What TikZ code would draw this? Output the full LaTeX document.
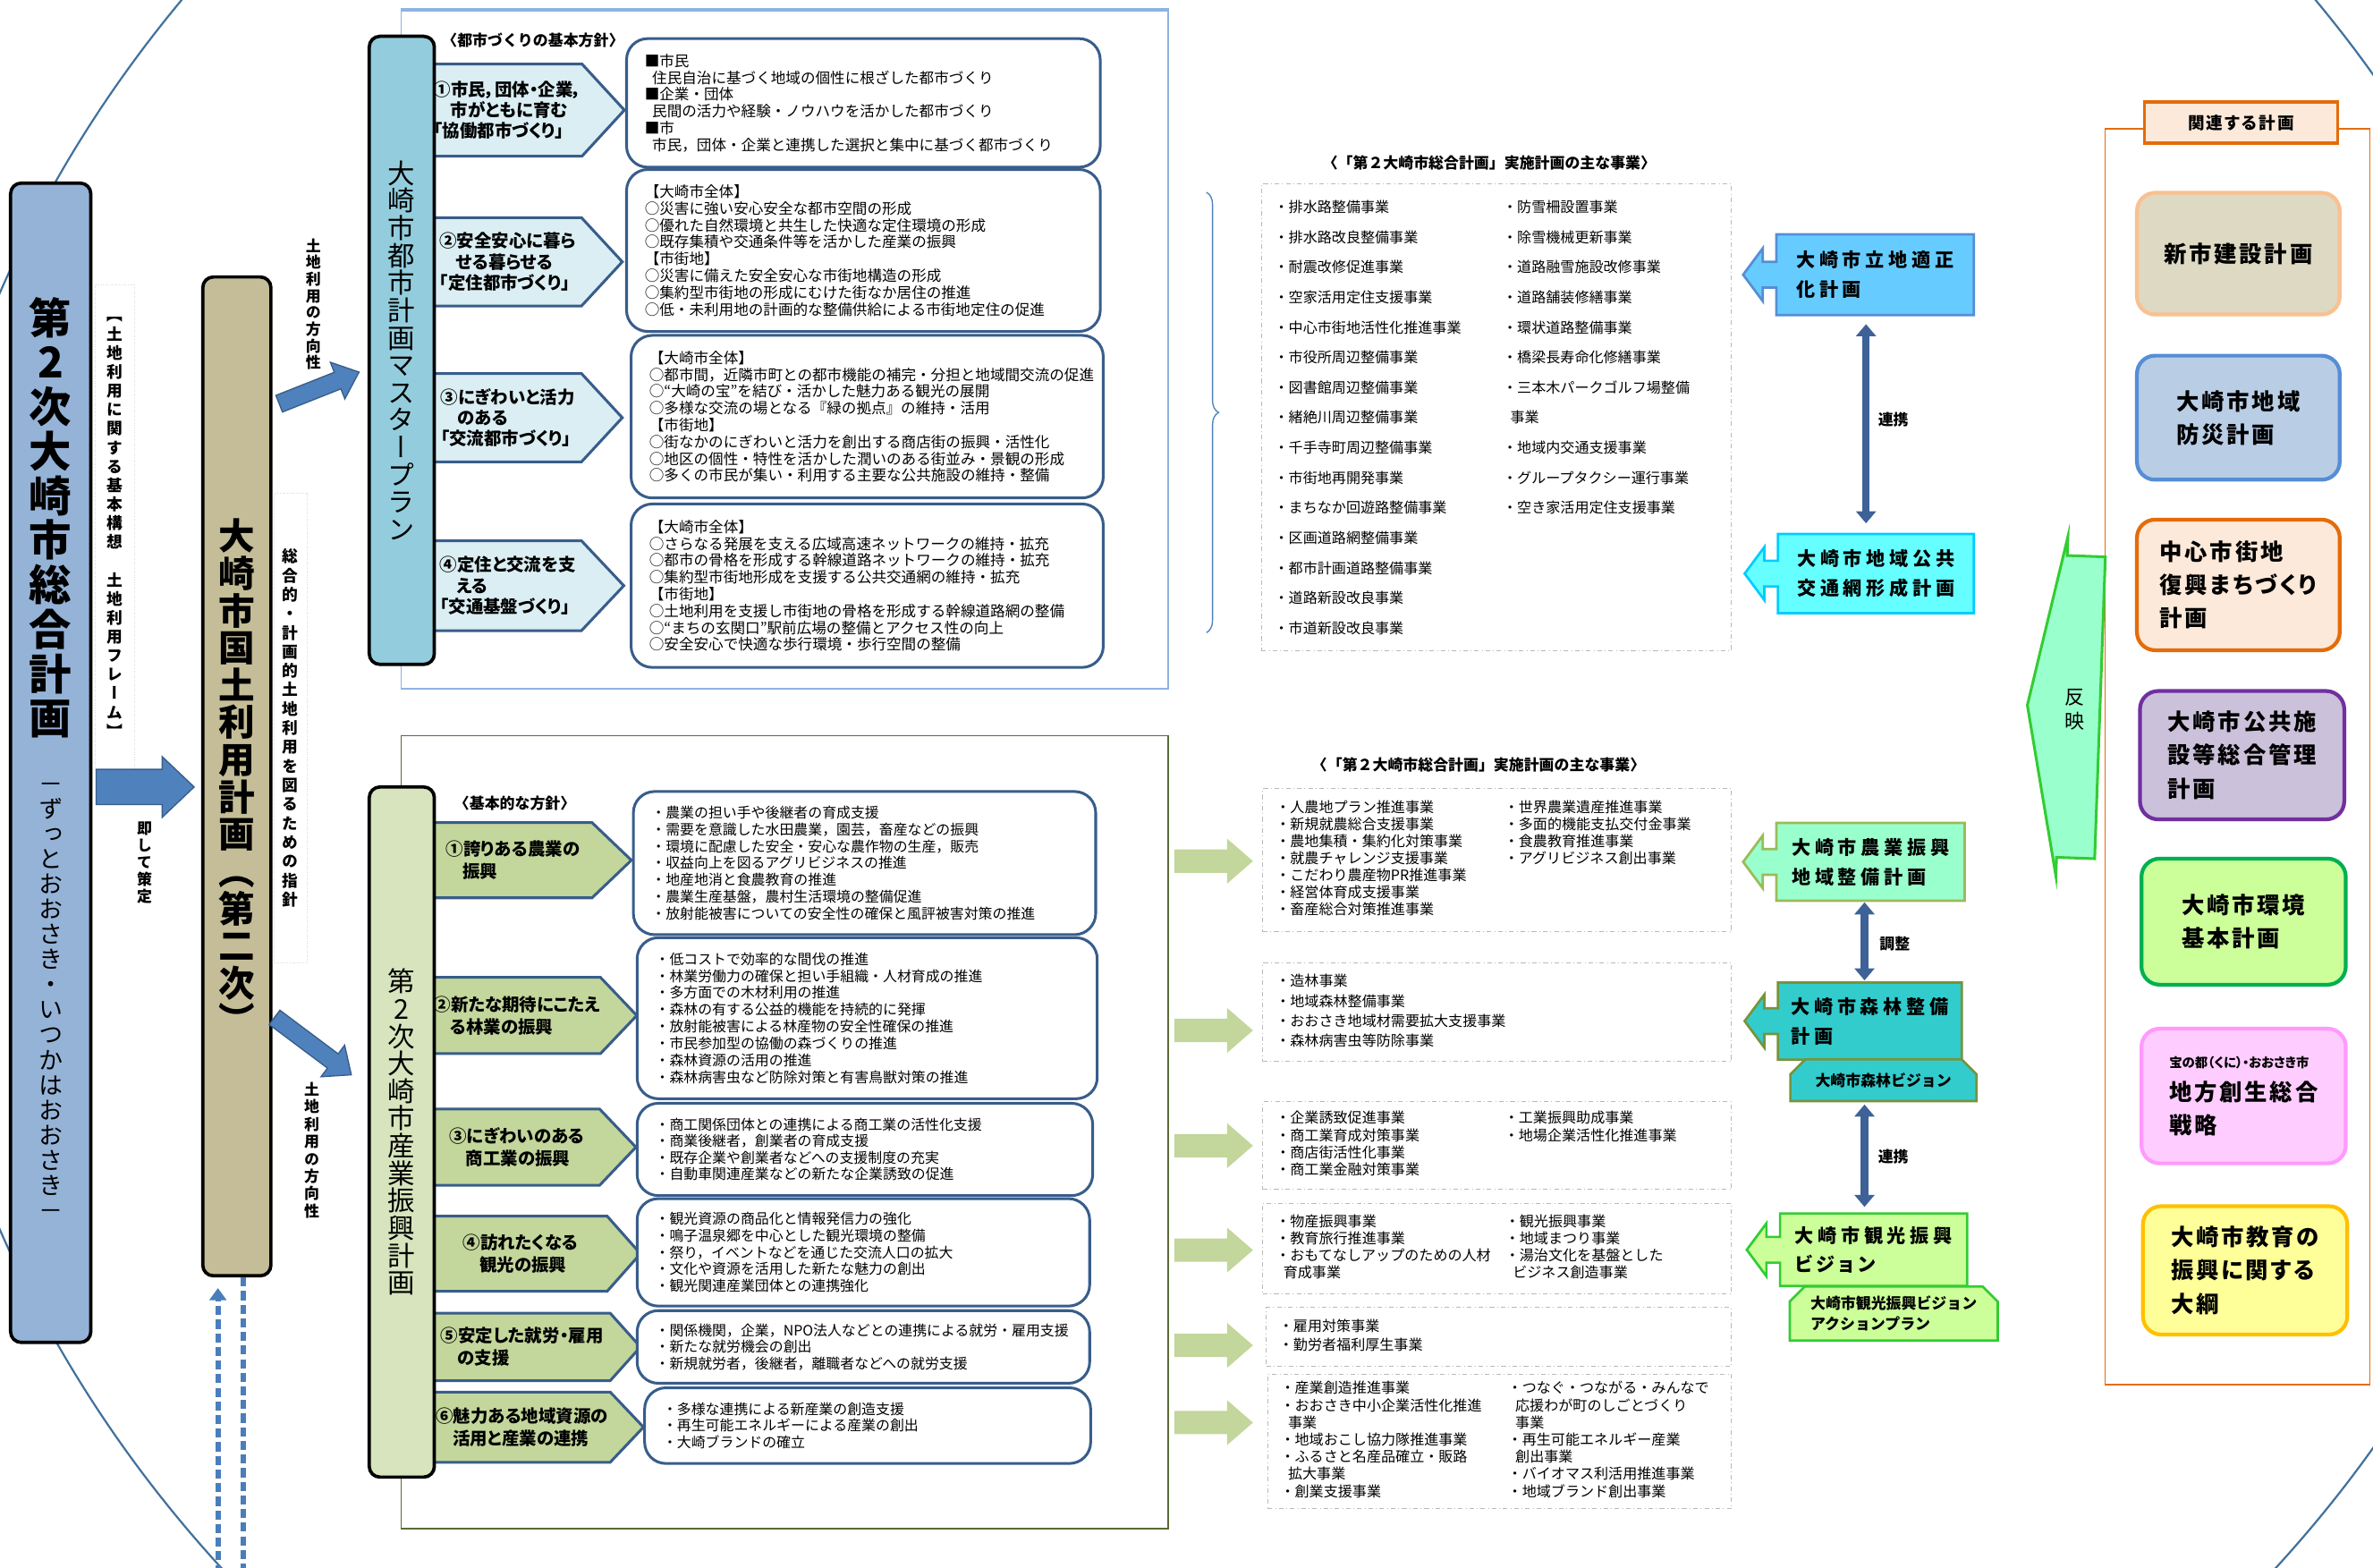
\documentclass[tikz,border=0pt]{standalone}
\usepackage{fontspec}
\setmainfont{Noto Sans CJK JP}
\newfontfamily\propfont{Noto Sans CJK JP}[RawFeature=+palt]
\newfontfamily\tatefont{Noto Sans CJK JP}[RawFeature=+vert]
\newfontfamily\widefont{Noto Sans CJK JP}[LetterSpace=22, RawFeature=+palt]
\newfontfamily\midfont{Noto Sans CJK JP}[LetterSpace=11, RawFeature=+palt]
\usepackage{array}
\usepackage{tikz}
\usetikzlibrary{shapes, arrows, arrows.meta, positioning, calc, backgrounds, decorations.pathreplacing}

\definecolor{waku}{HTML}{385D8A}
\definecolor{mizuiro}{HTML}{DAEEF3}
\definecolor{wakaba}{HTML}{C3D69B}
\definecolor{sougouao}{HTML}{95B3D7}
\definecolor{kokudocha}{HTML}{C4BD97}
\definecolor{masterao}{HTML}{93CDDD}
\definecolor{sangyomidori}{HTML}{D7E4BD}
\definecolor{yaao}{HTML}{4F81BD}
\definecolor{enao}{HTML}{41719C}
\definecolor{wakuao}{HTML}{8DB3E2}
\definecolor{wakuolive}{HTML}{5A6B35}
\definecolor{renkeiao}{HTML}{3E6297}
\definecolor{tensenao}{HTML}{4A7EBB}
\definecolor{sora}{HTML}{66CCFF}
\definecolor{soraline}{HTML}{558ED5}
\definecolor{cyan1}{HTML}{66FFFF}
\definecolor{cyanline}{HTML}{00CCFF}
\definecolor{minto}{HTML}{99FFCC}
\definecolor{mintoline}{HTML}{9BBB59}
\definecolor{shinrin}{HTML}{33CCCC}
\definecolor{shinrinline}{HTML}{77933C}
\definecolor{kimidori}{HTML}{CCFF99}
\definecolor{kimidoriline}{HTML}{33CC33}
\definecolor{orange1}{HTML}{E46C0A}
\definecolor{peach}{HTML}{FDE9D9}
\definecolor{haiiro}{HTML}{DDD9C3}
\definecolor{haiiroline}{HTML}{FAC090}
\definecolor{bousai}{HTML}{B9CDE5}
\definecolor{murasaki}{HTML}{CCC1DA}
\definecolor{murasakiline}{HTML}{7030A0}
\definecolor{kankyouline}{HTML}{00B050}
\definecolor{pink1}{HTML}{FFCCFF}
\definecolor{pinkline}{HTML}{FF99FF}
\definecolor{kiiro}{HTML}{FFFF99}
\definecolor{kiiroline}{HTML}{FFC000}

% vertical writing: one character per line
\ExplSyntaxOn
\NewDocumentCommand \tate { m }
  { \vbox { \lineskiplimit=-\maxdimen \lineskip=0pt \tl_map_inline:nn {#1} { \hbox to 1em { \hss ##1 \hss } } } }
\ExplSyntaxOff

\tikzstyle{tatebox}   = [draw=black, line width=2.2pt, rounded corners=7pt, inner sep=0pt]
\tikzstyle{tatemoji}  = [inner sep=0pt, font=\tatefont\bfseries\fontsize{10.5}{12.5}\selectfont]
\tikzstyle{houshin}   = [inner sep=0pt, align=left, font=\propfont\bfseries\fontsize{11.5}{13.8}\selectfont]
\tikzstyle{naiyou}    = [draw=waku, line width=1.8pt, rounded corners=14pt, fill=white, align=left, inner xsep=12pt, inner ysep=0pt, font=\fontsize{9.8}{11.1}\selectfont]
\tikzstyle{jigyo}     = [draw=gray!55, dash dot, line width=0.6pt, inner xsep=8.5pt, inner ysep=0pt, align=left]
\tikzstyle{komidashi} = [inner sep=0pt, font=\bfseries\fontsize{10}{12}\selectfont]
\tikzstyle{yoko}      = [inner sep=0pt, align=left, font=\widefont\bfseries\fontsize{12.5}{19.4}\selectfont]
\tikzstyle{keikaku}   = [rounded corners=12pt, line width=2.5pt, align=left, inner sep=0pt, font=\midfont\bfseries\fontsize{15}{21.9}\selectfont]
\tikzstyle{renkei}    = [line width=5pt, draw=renkeiao, {Triangle[width=13pt,length=8pt]}-{Triangle[width=13pt,length=8pt]}]
\tikzstyle{futoya}    = [single arrow, inner sep=0pt, fill=yaao, draw=waku, line width=0.8pt]
\tikzstyle{midoriya}  = [single arrow, inner sep=0pt, fill=wakaba, draw=none, single arrow tip angle=82]
\tikzstyle{tensen}    = [line width=3.5pt, draw=tensenao, dash pattern=on 6pt off 3pt]
\tikzstyle{kakko}     = [draw=yaao, line width=0.8pt, decorate, decoration={brace, amplitude=8pt}]

% block arrow from #2 to #3, head width #4, shaft width #5, name #6
\newcommand\yajirushi[6]{%
  \path let \p1=#2, \p2=#3, \n1={atan2(\y2-\y1,\x2-\x1)}, \n2={veclen(\x2-\x1,\y2-\y1)} in
    node[#1, minimum width=#4, text height=#5, text depth=0pt, minimum height=\n2, anchor=tail, rotate=\n1] (#6) at (\p1) {};}

% pentagon behind a label node
\newcommand\houshinline[3]{%
  \begin{scope}[on background layer]
    \path[fill=#3, draw=waku, line width=1.8pt]
      (#1.north west) -- (#1.north east) -- ($(#1.east)+(#2,0)$) -- (#1.south east) -- (#1.south west) -- cycle;
  \end{scope}}

% left pointing callout behind a label node
\newcommand\callline[3]{%
  \begin{scope}[on background layer]
    \path[fill=#2, draw=#3, line width=1.6pt]
      (#1.north west) -- (#1.north east) -- (#1.south east) -- (#1.south west)
      -- ($(#1.west)+(0,8.5)$) -- ($(#1.west)+(-9,8.5)$) -- ($(#1.west)+(-9,17.5)$)
      -- ($(#1.west)+(-22,0)$)
      -- ($(#1.west)+(-9,-17.5)$) -- ($(#1.west)+(-9,-8.5)$) -- ($(#1.west)+(0,-8.5)$) -- cycle;
  \end{scope}}

\begin{document}
\begin{tikzpicture}[x=1pt, y=-1pt]
\useasboundingbox (0,0) rectangle (1568,1035.5);
\clip (0,0) rectangle (1568,1035.5);

% outline
\draw[enao, line width=1.3pt] (825,503) ellipse [x radius=890pt, y radius=824pt];

% frames
\node[draw=wakuao, line width=1pt, minimum width=507pt, minimum height=448pt, inner sep=0pt] (toshiwaku) at (518.5,231) {};
\draw[wakuao, line width=2.2pt] (toshiwaku.north west) -- (toshiwaku.north east);
\node[draw=wakuolive, line width=0.9pt, minimum width=507pt, minimum height=524pt, inner sep=0pt] (sangyowaku) at (518.5,748) {};

% tall boxes
\node[tatebox, fill=sougouao, minimum width=53pt, minimum height=766pt] (sougou) at (33.5,504) {};
\node[inner sep=0pt, font=\tatefont\bfseries\fontsize{28}{29.4}\selectfont] (sougoutitle) at (33.5,342) {\tate{第2次大崎市総合計画}};
\node[inner sep=0pt, font=\tatefont\fontsize{16}{16.6}\selectfont] (sougousub) at (33.5,661.5) {\tate{－ずっとおおさき・いつかはおおさき－}};
\node[tatebox, fill=kokudocha, minimum width=45pt, minimum height=660pt, font=\tatefont\bfseries\fontsize{24}{24.6}\selectfont] (kokudo) at (156.5,513) {\tate{大崎市国土利用計画（第二次）}};
\node[tatebox, fill=masterao, minimum width=43pt, minimum height=415pt, font=\tatefont\fontsize{18}{18.1}\selectfont] (master) at (265.5,231.5) {\tate{大崎市都市計画マスタープラン}};
\node[tatebox, fill=sangyomidori, minimum width=43pt, minimum height=456pt, font=\tatefont\fontsize{18}{18.1}\selectfont] (sangyo) at (265.5,748) {\tate{第2次大崎市産業振興計画}};

% vertical notes
\node[tatemoji, draw=gray!30, densely dotted, line width=0.5pt, minimum width=26pt, minimum height=321pt] (kousou) at (76,348.5) {\tate{【土地利用に関する基本構想　土地利用フレーム】}};
\node[tatemoji, font=\tatefont\bfseries\fontsize{10}{11.2}\selectfont] (sokushite) at (95.5,570) {\tate{即して策定}};
\node[tatemoji, draw=gray!30, densely dotted, line width=0.5pt, minimum width=22pt, minimum height=310pt, font=\tatefont\bfseries\fontsize{10.5}{12.6}\selectfont] (shishin) at (192,481) {\tate{総合的・計画的土地利用を図るための指針}};
\node[tatemoji, font=\tatefont\bfseries\fontsize{10}{11}\selectfont] (houkou1) at (207,201) {\tate{土地利用の方向性}};
\node[tatemoji, font=\tatefont\bfseries\fontsize{10}{11.5}\selectfont] (houkou2) at (206,760) {\tate{土地利用の方向性}};

% city planning policies
\node[komidashi, anchor=west] (toshimidashi) at (292,26.6) {〈都市づくりの基本方針〉};
\node[houshin, minimum width=97pt, minimum height=60.5pt] (t1) at (335.5,72.75) {①市民，団体・企業，\\\hspace*{11pt}市がともに育む\\「協働都市づくり」};
\node[houshin, minimum width=97pt, minimum height=58pt] (t2) at (335.5,173) {②安全安心に暮ら\\\hspace*{11pt}せる暮らせる\\「定住都市づくり」};
\node[houshin, minimum width=97pt, minimum height=58pt] (t3) at (335.5,276) {③にぎわいと活力\\\hspace*{11pt}のある\\「交流都市づくり」};
\node[houshin, minimum width=97pt, minimum height=59pt] (t4) at (335.5,387) {④定住と交流を支\\\hspace*{11pt}える\\「交通基盤づくり」};
\houshinline{t1}{28}{mizuiro}
\houshinline{t2}{27}{mizuiro}
\houshinline{t3}{27}{mizuiro}
\houshinline{t4}{28}{mizuiro}

\node[naiyou, text width=289pt, minimum height=85pt] (n1) at (570.5,68) {■市民\\\hspace*{5pt}住民自治に基づく地域の個性に根ざした都市づくり\\■企業・団体\\\hspace*{5pt}民間の活力や経験・ノウハウを活かした都市づくり\\■市\\\hspace*{5pt}市民，団体・企業と連携した選択と集中に基づく都市づくり};
\node[naiyou, text width=289pt, minimum height=107pt] (n2) at (570.5,165.5) {【大崎市全体】\\○災害に強い安心安全な都市空間の形成\\○優れた自然環境と共生した快適な定住環境の形成\\○既存集積や交通条件等を活かした産業の振興\\【市街地】\\○災害に備えた安全安心な市街地構造の形成\\○集約型市街地の形成にむけた街なか居住の推進\\○低・未利用地の計画的な整備供給による市街地定住の促進};
\node[naiyou, text width=288pt, minimum height=107.4pt] (n3) at (573,275.3) {【大崎市全体】\\○都市間，近隣市町との都市機能の補完・分担と地域間交流の促進\\○“大崎の宝”を結び・活かした魅力ある観光の展開\\○多様な交流の場となる『緑の拠点』の維持・活用\\【市街地】\\○街なかのにぎわいと活力を創出する商店街の振興・活性化\\○地区の個性・特性を活かした潤いのある街並み・景観の形成\\○多くの市民が集い・利用する主要な公共施設の維持・整備};
\node[naiyou, text width=288pt, minimum height=108pt] (n4) at (573,387) {【大崎市全体】\\○さらなる発展を支える広域高速ネットワークの維持・拡充\\○都市の骨格を形成する幹線道路ネットワークの維持・拡充\\○集約型市街地形成を支援する公共交通網の維持・拡充\\【市街地】\\○土地利用を支援し市街地の骨格を形成する幹線道路網の整備\\○“まちの玄関口”駅前広場の整備とアクセス性の向上\\○安全安心で快適な歩行環境・歩行空間の整備};

% industry policies
\node[komidashi, anchor=west] (sangyomidashi) at (300,531) {〈基本的な方針〉};
\node[houshin, minimum width=104pt, minimum height=49.3pt, font=\propfont\bfseries\fontsize{11.5}{14.8}\selectfont] (l1) at (339,568.4) {①誇りある農業の\\\hspace*{11pt}振興};
\node[houshin, minimum width=109pt, minimum height=50pt, font=\propfont\bfseries\fontsize{11.5}{14.8}\selectfont] (l2) at (341.5,671) {②新たな期待にこたえ\\\hspace*{11pt}る林業の振興};
\node[houshin, minimum width=109pt, minimum height=50pt, font=\propfont\bfseries\fontsize{11.5}{14.8}\selectfont] (l3) at (341.5,758) {③にぎわいのある\\\hspace*{11pt}商工業の振興};
\node[houshin, minimum width=114pt, minimum height=49.2pt, font=\propfont\bfseries\fontsize{11.5}{14.8}\selectfont] (l4) at (344,828.4) {④訪れたくなる\\\hspace*{11pt}観光の振興};
\node[houshin, minimum width=116pt, minimum height=44.2pt, font=\propfont\bfseries\fontsize{11.5}{14.8}\selectfont] (l5) at (345,890) {⑤安定した就労・雇用\\\hspace*{11pt}の支援};
\node[houshin, minimum width=116pt, minimum height=46pt, font=\propfont\bfseries\fontsize{11.5}{14.8}\selectfont] (l6) at (345,943) {⑥魅力ある地域資源の\\\hspace*{11pt}活用と産業の連携};
\houshinline{l1}{26}{wakaba}
\houshinline{l2}{24}{wakaba}
\houshinline{l3}{24}{wakaba}
\houshinline{l4}{22}{wakaba}
\houshinline{l5}{20}{wakaba}
\houshinline{l6}{22}{wakaba}

\node[naiyou, text width=281.5pt, minimum height=94.6pt, font=\fontsize{9.4}{11.2}\selectfont] (m1) at (571.25,570.3) {・農業の担い手や後継者の育成支援\\・需要を意識した水田農業，園芸，畜産などの振興\\・環境に配慮した安全・安心な農作物の生産，販売\\・収益向上を図るアグリビジネスの推進\\・地産地消と食農教育の推進\\・農業生産基盤，農村生活環境の整備促進\\・放射能被害についての安全性の確保と風評被害対策の推進};
\node[naiyou, text width=280pt, minimum height=106.4pt, font=\fontsize{9.4}{11.2}\selectfont] (m2) at (573,672.8) {・低コストで効率的な間伐の推進\\・林業労働力の確保と担い手組織・人材育成の推進\\・多方面での木材利用の推進\\・森林の有する公益的機能を持続的に発揮\\・放射能被害による林産物の安全性確保の推進\\・市民参加型の協働の森づくりの推進\\・森林資源の活用の推進\\・森林病害虫など防除対策と有害鳥獣対策の推進};
\node[naiyou, text width=277pt, minimum height=61pt, font=\fontsize{9.4}{10.9}\selectfont] (m3) at (571.5,759.5) {・商工関係団体との連携による商工業の活性化支援\\・商業後継者，創業者の育成支援\\・既存企業や創業者などへの支援制度の充実\\・自動車関連産業などの新たな企業誘致の促進};
\node[naiyou, text width=275pt, minimum height=71pt, font=\fontsize{9.4}{11}\selectfont] (m4) at (570.5,827.5) {・観光資源の商品化と情報発信力の強化\\・鳴子温泉郷を中心とした観光環境の整備\\・祭り，イベントなどを通じた交流人口の拡大\\・文化や資源を活用した新たな魅力の創出\\・観光関連産業団体との連携強化};
\node[naiyou, text width=275pt, minimum height=48pt, font=\fontsize{9.4}{11}\selectfont] (m5) at (570.5,890) {・関係機関，企業，NPO法人などとの連携による就労・雇用支援\\・新たな就労機会の創出\\・新規就労者，後継者，離職者などへの就労支援};
\node[naiyou, text width=270.7pt, minimum height=50pt, font=\fontsize{9.4}{11}\selectfont] (m6) at (573.3,942) {・多様な連携による新産業の創造支援\\・再生可能エネルギーによる産業の創出\\・大崎ブランドの確立};

% main projects
\node[komidashi] (jigyomidashi1) at (984,107.5) {〈「第２大崎市総合計画」実施計画の主な事業〉};
\node[jigyo, text width=293.5pt, minimum height=308.3pt, font=\fontsize{9.5}{19.87}\selectfont] (jT) at (988.75,275.55) {\noindent\begin{tabular}{@{}p{151pt}@{}l@{}}
・排水路整備事業 & ・防雪柵設置事業\\
・排水路改良整備事業 & ・除雪機械更新事業\\
・耐震改修促進事業 & ・道路融雪施設改修事業\\
・空家活用定住支援事業 & ・道路舗装修繕事業\\
・中心市街地活性化推進事業 & ・環状道路整備事業\\
・市役所周辺整備事業 & ・橋梁長寿命化修繕事業\\
・図書館周辺整備事業 & ・三本木パークゴルフ場整備\\
・緒絶川周辺整備事業 & \hspace*{5pt}事業\\
・千手寺町周辺整備事業 & ・地域内交通支援事業\\
・市街地再開発事業 & ・グループタクシー運行事業\\
・まちなか回遊路整備事業 & ・空き家活用定住支援事業\\
・区画道路網整備事業 & \\
・都市計画道路整備事業 & \\
・道路新設改良事業 & \\
・市道新設改良事業 &
\end{tabular}};
\draw[kakko] ($(jT.north west)+(-36,6)$) -- ($(jT.south west)+(-36,-12)$);

\node[komidashi] (jigyomidashi2) at (977,505.3) {〈「第２大崎市総合計画」実施計画の主な事業〉};
\node[jigyo, text width=292.5pt, minimum height=94.7pt, font=\fontsize{9.5}{10.93}\selectfont] (jA) at (989.25,568.35) {\noindent\begin{tabular}{@{}p{151pt}@{}l@{}}
・人農地プラン推進事業 & ・世界農業遺産推進事業\\
・新規就農総合支援事業 & ・多面的機能支払交付金事業\\
・農地集積・集約化対策事業 & ・食農教育推進事業\\
・就農チャレンジ支援事業 & ・アグリビジネス創出事業\\
・こだわり農産物PR推進事業 & \\
・経営体育成支援事業 & \\
・畜産総合対策推進事業 &
\end{tabular}};
\node[jigyo, text width=292.5pt, minimum height=65.1pt, font=\fontsize{9.5}{13.1}\selectfont] (jB) at (989.25,668.85) {\noindent\begin{tabular}{@{}l@{}}
・造林事業\\
・地域森林整備事業\\
・おおさき地域材需要拡大支援事業\\
・森林病害虫等防除事業
\end{tabular}};
\node[jigyo, text width=292.5pt, minimum height=58pt, font=\fontsize{9.5}{11.3}\selectfont] (jC) at (989.25,757) {\noindent\begin{tabular}{@{}p{151pt}@{}l@{}}
・企業誘致促進事業 & ・工業振興助成事業\\
・商工業育成対策事業 & ・地場企業活性化推進事業\\
・商店街活性化事業 & \\
・商工業金融対策事業 &
\end{tabular}};
\node[jigyo, text width=292.5pt, minimum height=60pt, font=\fontsize{9.5}{11.1}\selectfont] (jD) at (989.25,825) {\noindent\begin{tabular}{@{}p{151.6pt}@{}l@{}}
・物産振興事業 & ・観光振興事業\\
・教育旅行推進事業 & ・地域まつり事業\\
・おもてなしアップのための人材 & ・湯治文化を基盤とした\\
\hspace*{5pt}育成事業 & \hspace*{5pt}ビジネス創造事業
\end{tabular}};
\node[jigyo, text width=290.4pt, minimum height=39.1pt, font=\fontsize{9.5}{12.8}\selectfont] (jE) at (990.3,883.45) {\noindent\begin{tabular}{@{}l@{}}
・雇用対策事業\\
・勤労者福利厚生事業
\end{tabular}};
\node[jigyo, text width=289.4pt, minimum height=88.8pt, font=\fontsize{9.5}{11}\selectfont] (jF) at (990.8,952.4) {\noindent\begin{tabular}{@{}p{150.2pt}@{}l@{}}
・産業創造推進事業 & ・つなぐ・つながる・みんなで\\
・おおさき中小企業活性化推進 & \hspace*{5pt}応援わが町のしごとづくり\\
\hspace*{5pt}事業 & \hspace*{5pt}事業\\
・地域おこし協力隊推進事業 & ・再生可能エネルギー産業\\
・ふるさと名産品確立・販路 & \hspace*{5pt}創出事業\\
\hspace*{5pt}拡大事業 & ・バイオマス利活用推進事業\\
・創業支援事業 & ・地域ブランド創出事業
\end{tabular}};

% individual plans
\node[yoko, minimum width=130pt, minimum height=53pt] (rittei) at (1239,181.5) {大崎市立地適正\\化計画};
\node[yoko, minimum width=129pt, minimum height=52pt] (koukyou) at (1239.5,379) {大崎市地域公共\\交通網形成計画};
\node[yoko, minimum width=124pt, minimum height=51pt] (nougyou) at (1236,569.5) {大崎市農業振興\\地域整備計画};
\node[yoko, minimum width=121pt, minimum height=50.6pt] (shinrinkeikaku) at (1235.5,674.7) {大崎市森林整備\\計画};
\node[yoko, minimum width=123.2pt, minimum height=47.6pt] (kankou) at (1238,825.8) {大崎市観光振興\\ビジョン};
\callline{rittei}{sora}{soraline}
\callline{koukyou}{cyan1}{cyanline}
\callline{nougyou}{minto}{mintoline}
\callline{shinrinkeikaku}{shinrin}{shinrinline}
\callline{kankou}{kimidori}{kimidoriline}
\node[chamfered rectangle, chamfered rectangle corners={north west,north east}, chamfered rectangle xsep=5pt, chamfered rectangle ysep=5pt, fill=shinrin, draw=shinrinline, line width=1.6pt, inner sep=0pt, minimum width=123pt, minimum height=27.5pt, font=\bfseries\fontsize{10}{12}\selectfont] (vision) at (1244.5,713.75) {大崎市森林ビジョン};
\node[chamfered rectangle, chamfered rectangle corners={north west,north east}, chamfered rectangle xsep=5pt, chamfered rectangle ysep=5pt, fill=kimidori, draw=kimidoriline, line width=1.6pt, inner sep=0pt, minimum width=137.4pt, minimum height=35.8pt, align=left, font=\bfseries\fontsize{10}{13.3}\selectfont] (action) at (1251.3,867.9) {大崎市観光振興ビジョン\\アクションプラン};

\node[komidashi] (renkei1) at (1251,277) {連携};
\node[komidashi] (chousei) at (1252,623.6) {調整};
\node[komidashi] (renkei2) at (1251,764.5) {連携};

% related plans
\node[draw=orange1, line width=1pt, minimum width=175pt, minimum height=830pt, inner sep=0pt] (kanren) at (1478.5,500) {};
\node[draw=orange1, line width=2pt, fill=peach, minimum width=127.5pt, minimum height=27.3pt, inner sep=0pt, font=\midfont\bfseries\fontsize{11}{12}\selectfont] (kanrenmidashi) at (1480.75,81) {関連する計画};
\node[keikaku, fill=haiiro, draw=haiiroline, minimum width=134pt, minimum height=80.4pt] (shinshi) at (1479,167.6) {新市建設計画};
\node[keikaku, fill=bousai, draw=soraline, minimum width=134pt, minimum height=82pt] (bousaikeikaku) at (1479,276) {大崎市地域\\防災計画};
\node[keikaku, fill=peach, draw=orange1, minimum width=134pt, minimum height=86.3pt] (fukkou) at (1479,386.5) {中心市街地\\復興まちづくり\\計画};
\node[keikaku, fill=murasaki, draw=murasakiline, minimum width=135pt, minimum height=84.8pt] (shisetsu) at (1481.5,499) {大崎市公共施\\設等総合管理\\計画};
\node[keikaku, fill=kimidori, draw=kankyouline, minimum width=135pt, minimum height=83.3pt] (kankyou) at (1482.5,609) {大崎市環境\\基本計画};
\node[keikaku, fill=pink1, draw=pinkline, minimum width=135pt, minimum height=89pt] (sousei) at (1482.5,724.2) {{\propfont\bfseries\fontsize{8.5}{10}\selectfont 宝の都（くに）・おおさき市}\\地方創生総合\\戦略};
\node[keikaku, fill=kiiro, draw=kiiroline, minimum width=135pt, minimum height=84.8pt] (kyouiku) at (1483.5,839.4) {大崎市教育の\\振興に関する\\大綱};

% edges
\yajirushi{futoya, single arrow tip angle=87}{($(sougou.east)+(2,16)$)}{($(kokudo.west)+(-5,7)$)}{40}{19pt}{ya1}
\yajirushi{futoya, single arrow tip angle=81}{($(kokudo.north east)+(4,85)$)}{($(master.west)+(-6,14.5)$)}{24}{11pt}{ya2}
\yajirushi{futoya, single arrow tip angle=81}{($(kokudo.east)+(1,159)$)}{($(sangyo.west)+(-11,-38)$)}{24}{11pt}{ya3}
\yajirushi{midoriya}{($(jA.west)+(-58.5,0.65)$)}{($(jA.west)+(-6.5,0.65)$)}{28}{15pt}{ya4}
\yajirushi{midoriya}{($(jB.west)+(-58.5,12)$)}{($(jB.west)+(-6.5,12)$)}{28}{15pt}{ya5}
\yajirushi{midoriya}{($(jC.west)+(-58.5,0)$)}{($(jC.west)+(-6.5,0)$)}{28}{15pt}{ya6}
\yajirushi{midoriya}{($(jD.west)+(-58.5,1)$)}{($(jD.west)+(-6.5,1)$)}{28}{15pt}{ya7}
\yajirushi{midoriya}{($(jE.west)+(-60.6,5.5)$)}{($(jE.west)+(-8.6,5.5)$)}{28}{15pt}{ya8}
\yajirushi{midoriya}{($(jF.west)+(-61.6,-12.4)$)}{($(jF.west)+(-9.6,-12.4)$)}{28}{15pt}{ya9}
\yajirushi{single arrow, inner sep=0pt, fill=minto, draw=kimidoriline, line width=1.8pt, single arrow tip angle=157}{($(kanren.west)+(-2,-32.3)$)}{($(kanren.west)+(-50,-34)$)}{224.5}{112pt}{haneiya}
\node[inner sep=0pt, font=\tatefont\fontsize{13}{16}\selectfont] (hanei) at (1371,469) {\tate{反映}};

\draw[renkei, shorten <=6pt, shorten >=7pt] ($(rittei.south)+(-6,0)$) -- ($(koukyou.north)+(-6.5,0)$);
\draw[renkei, shorten <=1pt, shorten >=1.4pt] ($(nougyou.south)+(-4,0)$) -- ($(shinrinkeikaku.north)+(-3.5,0)$);
\draw[renkei, shorten <=1.5pt, shorten >=4.3pt] ($(vision.south)+(-12.5,0)$) -- ($(kankou.north)+(-6,0)$);

\coordinate (shitaL) at (144,1040);
\coordinate (shitaR) at (161,1040);
\draw[tensen, -{Triangle[width=11pt,length=8pt]}, shorten >=7pt] (shitaL) -- (shitaL |- kokudo.south);
\draw[tensen] (shitaR |- kokudo.south) -- (shitaR);

\end{tikzpicture}
\end{document}
